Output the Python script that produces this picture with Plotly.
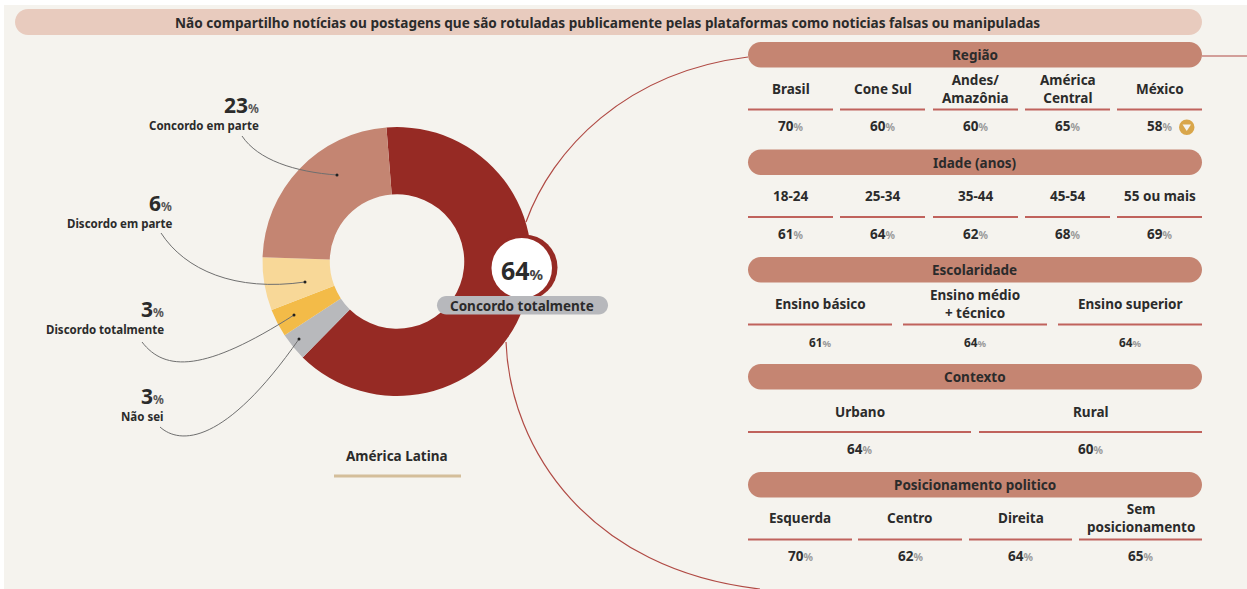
import plotly.graph_objects as go

title = "Não compartilho notícias ou postagens que são rotuladas publicamente pelas plataformas como noticias falsas ou manipuladas"

answers = ["Concordo totalmente", "Não sei", "Discordo totalmente", "Discordo em parte", "Concordo em parte"]
shares = [64, 3.4, 3.4, 6.4, 23.4]
share_labels = ["64", "3", "3", "6", "23"]
slice_colors = ["#962A24", "#B8B9BC", "#F3BB48", "#F8D898", "#C48572"]

group_names = ["Região", "Idade (anos)", "Escolaridade", "Contexto", "Posicionamento politico"]
region_names = ["Brasil", "Cone Sul", "Andes/<br>Amazônia", "América<br>Central", "México"]
region_values = [70, 60, 60, 65, 58]
age_names = ["18-24", "25-34", "35-44", "45-54", "55 ou mais"]
age_values = [61, 64, 62, 68, 69]
school_names = ["Ensino básico", "Ensino médio<br>+ técnico", "Ensino superior"]
school_values = [61, 64, 64]
context_names = ["Urbano", "Rural"]
context_values = [64, 60]
politics_names = ["Esquerda", "Centro", "Direita", "Sem<br>posicionamento"]
politics_values = [70, 62, 64, 65]

INK = "#2B2B2B"
FONT = "Noto Sans"
W, H = 1247, 589


def pill(x0, x1, y0, y1, color):
    r = (y1 - y0) / 2
    k = r * 0.55
    path = (f"M{x0 + r},{y0} L{x1 - r},{y0} C{x1 - r + k},{y0} {x1},{y0 + r - k} {x1},{y0 + r} "
            f"C{x1},{y0 + r + k} {x1 - r + k},{y1} {x1 - r},{y1} L{x0 + r},{y1} "
            f"C{x0 + r - k},{y1} {x0},{y0 + r + k} {x0},{y0 + r} "
            f"C{x0},{y0 + r - k} {x0 + r - k},{y0} {x0 + r},{y0} Z")
    return dict(type="path", path=path, fillcolor=color, line_width=0, layer="below")


def curve(path, color, width=1):
    return dict(type="path", path=path, line=dict(color=color, width=width), layer="above")


def text(x, y, s, size=13.5, anchor="center", color=INK):
    return dict(x=x, y=y, xref="x", yref="y", text=s, showarrow=False, xanchor=anchor, yanchor="middle",
                font=dict(family=FONT, size=size, color=color), align="center" if anchor == "center" else "right")


def pct(v, small=10.5, color="#999999"):
    return f'<b>{v}</b><span style="font-size:{small}px;color:{color}"><b>%</b></span>'


shapes = []
notes = []

# background and title
shapes.append(dict(type="rect", x0=4, x1=W, y0=5, y1=H, fillcolor="#F5F3EE", line_width=0, layer="below"))
shapes.append(pill(15, 1202, 9, 35, "#E8CBBE"))
notes.append(text(607, 22, f"<b>{title}</b>", 13.6))

# big red curves joining the donut to the panel (under the pills)
shapes.append(dict(curve("M526,222 C552,150 625,72 748,57", "#B04A44", 1.2), layer="below"))
shapes.append(dict(curve("M506,342 C510,450 590,570 760,589", "#B04A44", 1.2), layer="below"))
shapes.append(dict(curve("M1202,56 L1247,56", "#B04A44", 1.2), layer="below"))

# right panel
tables = [
    (region_names, region_values, 42, 88.5, 109.5, 125.5, [(748, 833), (840, 925), (933, 1018), (1025, 1110), (1117, 1202)]),
    (age_names, age_values, 149.5, 196, 217, 233.5, [(748, 833), (840, 925), (933, 1018), (1025, 1110), (1117, 1202)]),
    (school_names, school_values, 257, 304, 324.5, 341.5, [(748, 892), (903, 1047), (1058, 1202)]),
    (context_names, context_values, 364, 412, 432, 448.5, [(748, 971), (979, 1202)]),
    (politics_names, politics_values, 472, 518, 539.5, 555.5, [(748, 852), (858, 962), (969, 1072), (1079, 1202)]),
]
for group, (names, values, top, label_y, rule_y, value_y, cols) in zip(group_names, tables):
    shapes.append(pill(748, 1202, top, top + 25.5, "#C58572"))
    notes.append(text(974.5, top + 13, f"<b>{group}</b>", 13.5))
    small_row = group == "Escolaridade"
    for name, v, (a, b) in zip(names, values, cols):
        cx = (a + b) / 2
        shapes.append(dict(type="line", x0=a, x1=b, y0=rule_y, y1=rule_y, line=dict(color="#C0625C", width=2), layer="below"))
        notes.append(text(cx, label_y, f"<b>{name}</b>", 13.5))
        if name == "México":
            cx = 1159
        notes.append(text(cx, value_y, pct(v, 9.5 if small_row else 10.5), 11.8 if small_row else 13.5))

# México falls below the regional average
shapes.append(dict(type="circle", x0=1179, x1=1194.5, y0=119.5, y1=135, fillcolor="#D9A64A", line_width=0))
shapes.append(dict(type="path", path="M1182.5,124.5 L1191,124.5 L1186.75,131 Z", fillcolor="#F5F3EE", line_width=0))

# callouts
callouts = [
    (4, 261, 105, 125, "M242,136 C258,160 295,172 337,175"),
    (3, 173.5, 203, 223, "M161,233 C185,270 235,292 305,282"),
    (2, 165.5, 309, 329, "M142,342 C165,372 205,372 294,315"),
    (1, 165.5, 396, 416, "M160,427 C180,445 225,445 299,339"),
]
for (i, right, num_y, lab_y, path) in callouts:
    shapes.append(curve(path, "#6F6F6F", 1))
    notes.append(text(right, num_y, f'<b>{share_labels[i]}</b><span style="font-size:12px;color:#555555"><b>%</b></span>', 21, "right"))
    notes.append(text(right, lab_y, f"<b>{answers[i]}</b>", 11.5, "right"))

# leader line end points
for px, py in [(337, 175), (305, 282), (294, 315), (299, 339)]:
    shapes.append(dict(type="circle", x0=px - 1.5, x1=px + 1.5, y0=py - 1.5, y1=py + 1.5, fillcolor="#222222", line_width=0))

# highlighted value on the donut
shapes.append(dict(type="circle", x0=491, x1=557.5, y0=234.5, y1=300.5, fillcolor="#962A24", line_width=0))
shapes.append(dict(type="circle", x0=491.5, x1=552, y0=238, y1=298, fillcolor="#FFFFFF", line_width=0))
notes.append(text(522, 270, '<b>64</b><span style="font-size:15px;color:#444444"><b>%</b></span>', 25))
shapes.append(dict(pill(437, 608, 296, 314.5, "#B7B8BC"), layer="above"))
notes.append(text(522, 305.5, f"<b>{answers[0]}</b>", 13.5))

# region caption
notes.append(text(397, 456, "<b>América Latina</b>", 13.5))
shapes.append(dict(type="line", x0=334, x1=461, y0=476, y1=476, line=dict(color="#D4BE9A", width=3)))

cx, cy, r = 397, 261.5, 134.5
fig = go.Figure()
fig.add_trace(go.Pie(
    values=shares, labels=answers, sort=False, direction="clockwise", rotation=-4.5, hole=0.5,
    marker=dict(colors=slice_colors, line=dict(width=0)), textinfo="none", hoverinfo="label+percent",
    domain=dict(x=[(cx - r) / W, (cx + r) / W], y=[1 - (cy + r) / H, 1 - (cy - r) / H]),
    showlegend=False,
))
# empty trace so the pixel axes used by shapes and labels exist
fig.add_trace(go.Scatter(x=[], y=[], mode="markers", hoverinfo="skip", showlegend=False))
fig.update_layout(
    width=W, height=H, margin=dict(l=0, r=0, t=0, b=0), paper_bgcolor="#FFFFFF", plot_bgcolor="rgba(0,0,0,0)",
    xaxis=dict(range=[0, W], visible=False, fixedrange=True),
    yaxis=dict(range=[H, 0], visible=False, fixedrange=True),
    shapes=shapes, annotations=notes, font=dict(family=FONT, color=INK),
)
fig.write_html("out.html", config=dict(displayModeBar=False),
               post_script="document.body.style.margin='0';")
